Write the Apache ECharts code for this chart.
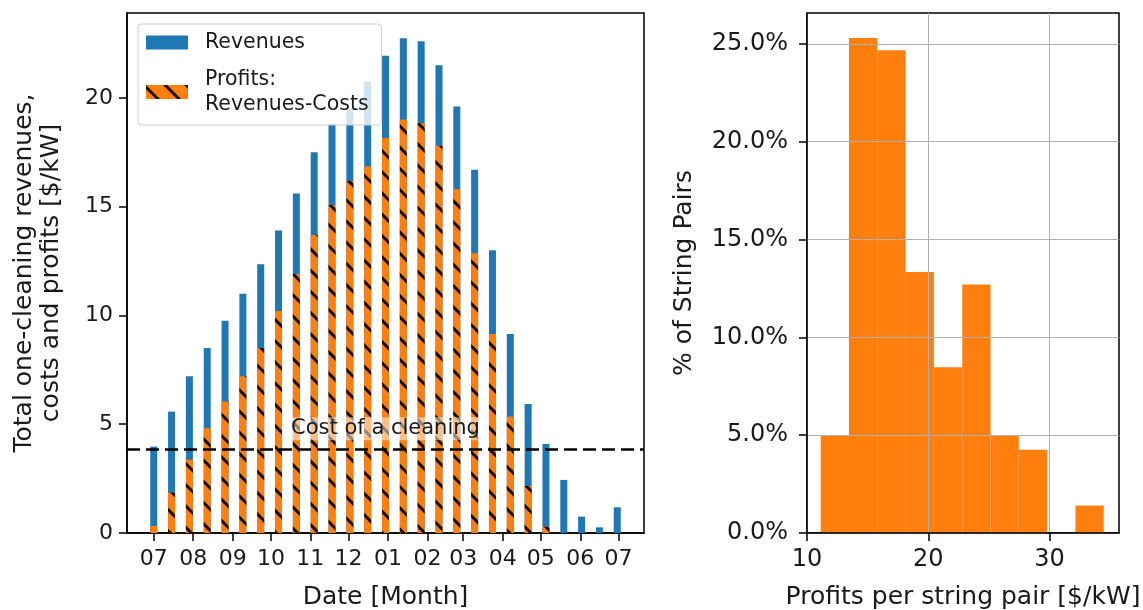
<!DOCTYPE html>
<html>
<head>
<meta charset="utf-8">
<script src="https://cdn.jsdelivr.net/npm/echarts@6/dist/echarts.min.js"></script>
<style>
html,body{margin:0;padding:0;background:#fff;}
#chart{width:1143px;height:610px;}
</style>
</head>
<body>
<div id="chart"></div>
<script>
// ---- Data ----
const barDates = ['2018-07-01','2018-07-15','2018-07-29','2018-08-12','2018-08-26','2018-09-09','2018-09-23',
  '2018-10-07','2018-10-21','2018-11-04','2018-11-18','2018-12-02','2018-12-16','2018-12-30',
  '2019-01-13','2019-01-27','2019-02-10','2019-02-24','2019-03-10','2019-03-24','2019-04-07',
  '2019-04-21','2019-05-05','2019-05-19','2019-06-02','2019-06-16','2019-06-30'];
const revenues = [3.97,5.58,7.2,8.5,9.75,11.0,12.35,13.9,15.6,17.5,18.8,19.5,20.75,21.93,
  22.74,22.6,21.5,19.6,16.7,13.0,9.15,5.93,4.09,2.44,0.75,0.26,1.18];
const profits = [0.32,1.86,3.37,4.82,6.04,7.2,8.5,10.2,11.9,13.7,15.08,16.18,16.84,18.15,
  19.0,18.83,17.8,15.8,12.86,9.15,5.35,2.16,0.29,0,0,0,0];
const costOfCleaning = 3.85;
const monthTicks = ['2018-07-01','2018-08-01','2018-09-01','2018-10-01','2018-11-01','2018-12-01',
  '2019-01-01','2019-02-01','2019-03-01','2019-04-01','2019-05-01','2019-06-01','2019-07-01'];
const leftYTicks = [0,5,10,15,20];

const binEdges = [11.13,13.46,15.8,18.13,20.46,22.8,25.13,27.46,29.8,32.13,34.46];
const binPercents = [5.0,25.3,24.67,13.34,8.47,12.7,5.0,4.26,0,1.4];
const rightXTicks = [10,20,30];
const rightYTicks = [0,5,10,15,20,25];

// ---- Build ----
const ts = s => Date.parse(s);
const revData = barDates.map((d,i)=>[ts(d), revenues[i]]);
const proData = barDates.map((d,i)=>[ts(d), profits[i]]);
const histData = binPercents.map((p,i)=>[binEdges[i], binEdges[i+1], p]);

const FONT = 'DejaVu Sans';
const TXT = '#1a1a1a';
const BLUE = '#1f77b4', ORANGE = '#ff7f0e';

function ax(extra, tickFont){
  const o = {
    axisLine:{show:true, lineStyle:{color:'#000', width:1.5}},
    axisTick:{show:true, inside:false, length:8, lineStyle:{color:'#000', width:1.5}},
    axisLabel:{color:TXT, fontFamily:FONT, fontSize:tickFont},
    nameTextStyle:{color:TXT, fontFamily:FONT, fontSize:25, lineHeight:27}
  };
  for (const k in extra){
    if (typeof extra[k]==='object' && !Array.isArray(extra[k]) && o[k]) Object.assign(o[k], extra[k]);
    else o[k]=extra[k];
  }
  return o;
}

const chart = echarts.init(document.getElementById('chart'), null, {renderer:'canvas'});
const pad2 = n => (n<10?'0':'')+n;

const option = {
  animation:false,
  backgroundColor:'#fff',
  grid:[
    {left:127, top:13, width:517, height:520, show:true, borderColor:'#000', borderWidth:1.5,
      backgroundColor:'transparent', containLabel:false, outerBoundsMode:'none'},
    {left:807, top:13, width:312, height:520, show:true, borderColor:'#000', borderWidth:1.5,
      backgroundColor:'transparent', containLabel:false, outerBoundsMode:'none'}
  ],
  legend:{
    show:true, orient:'vertical', left:138, top:24,
    data:['Revenues','Profits:\nRevenues-Costs'],
    selectedMode:false, icon:'rect', itemWidth:42, itemHeight:14, itemGap:12,
    padding:[6,13,8,8],
    backgroundColor:'rgba(255,255,255,0.8)', borderColor:'#d0d0d0', borderWidth:1, borderRadius:4,
    textStyle:{color:TXT, fontFamily:FONT, fontSize:20.5, lineHeight:25, padding:[0,0,0,12]}
  },
  xAxis:[
    ax({type:'value', gridIndex:0, min:ts('2018-06-10'), max:ts('2019-07-21'),
      name:'Date [Month]', nameLocation:'middle', nameGap:51,
      splitLine:{show:false},
      axisTick:{customValues: monthTicks.map(ts)},
      axisLabel:{customValues: monthTicks.map(ts), margin:15,
        formatter: v => pad2(new Date(v).getUTCMonth()+1)}
    }, 22),
    ax({type:'value', gridIndex:1, min:10, max:35.72, interval:10, z:3,
      name:'Profits per string pair [$/kW]', nameLocation:'middle', nameGap:51,
      splitLine:{show:true, lineStyle:{color:'#b0b0b0', width:1}},
      axisTick:{customValues: rightXTicks},
      axisLabel:{customValues: rightXTicks, margin:15}
    }, 24),
  ],
  yAxis:[
    ax({type:'value', gridIndex:0, min:0, max:23.9, interval:5,
      name:'Total one-cleaning revenues,\ncosts and profits [$/kW]', nameLocation:'middle', nameGap:62,
      splitLine:{show:false},
      axisTick:{customValues: leftYTicks},
      axisLabel:{customValues: leftYTicks, margin:14}
    }, 22),
    ax({type:'value', gridIndex:1, min:0, max:26.58, interval:5, z:3,
      name:'% of String Pairs', nameLocation:'middle', nameGap:109,
      splitLine:{show:true, lineStyle:{color:'#b0b0b0', width:1}},
      axisTick:{customValues: rightYTicks},
      axisLabel:{customValues: rightYTicks, margin:19, formatter: v => v.toFixed(1)+'%'}
    }, 24)
  ],
  series:[
    {
      name:'Revenues', type:'bar', xAxisIndex:0, yAxisIndex:0,
      data:revData, barWidth:7, barGap:'-100%',
      itemStyle:{color:BLUE}
    },
    {
      name:'Profits:\nRevenues-Costs', type:'bar', xAxisIndex:0, yAxisIndex:0,
      data:proData, barWidth:7, barGap:'-100%',
      itemStyle:{color:ORANGE, decal:{symbol:'rect', symbolSize:1, dashArrayX:[1,0], dashArrayY:[2.5,11.3],
        rotation:Math.PI/4, color:'#1a0a00'}},
      markLine:{
        silent:true, symbol:'none', animation:false,
        lineStyle:{color:'#000', type:[13,6], width:2.5},
        label:{show:true, position:'middle', formatter:'Cost of a cleaning', distance:9,
          color:TXT, fontFamily:FONT, fontSize:21, backgroundColor:'rgba(255,255,255,0.5)', padding:[1,3]},
        data:[{yAxis:costOfCleaning}]
      }
    },
    {
      name:'hist', type:'custom', xAxisIndex:1, yAxisIndex:1, z:1,
      data:histData,
      encode:{x:[0,1], y:2},
      renderItem:function(params, api){
        const p0 = api.coord([api.value(0), api.value(2)]);
        const p1 = api.coord([api.value(1), 0]);
        return {type:'rect', shape:{x:p0[0], y:p0[1], width:p1[0]-p0[0], height:p1[1]-p0[1]},
          style:{fill:ORANGE}};
      }
    }
  ]
};
chart.setOption(option);
</script>
</body>
</html>
